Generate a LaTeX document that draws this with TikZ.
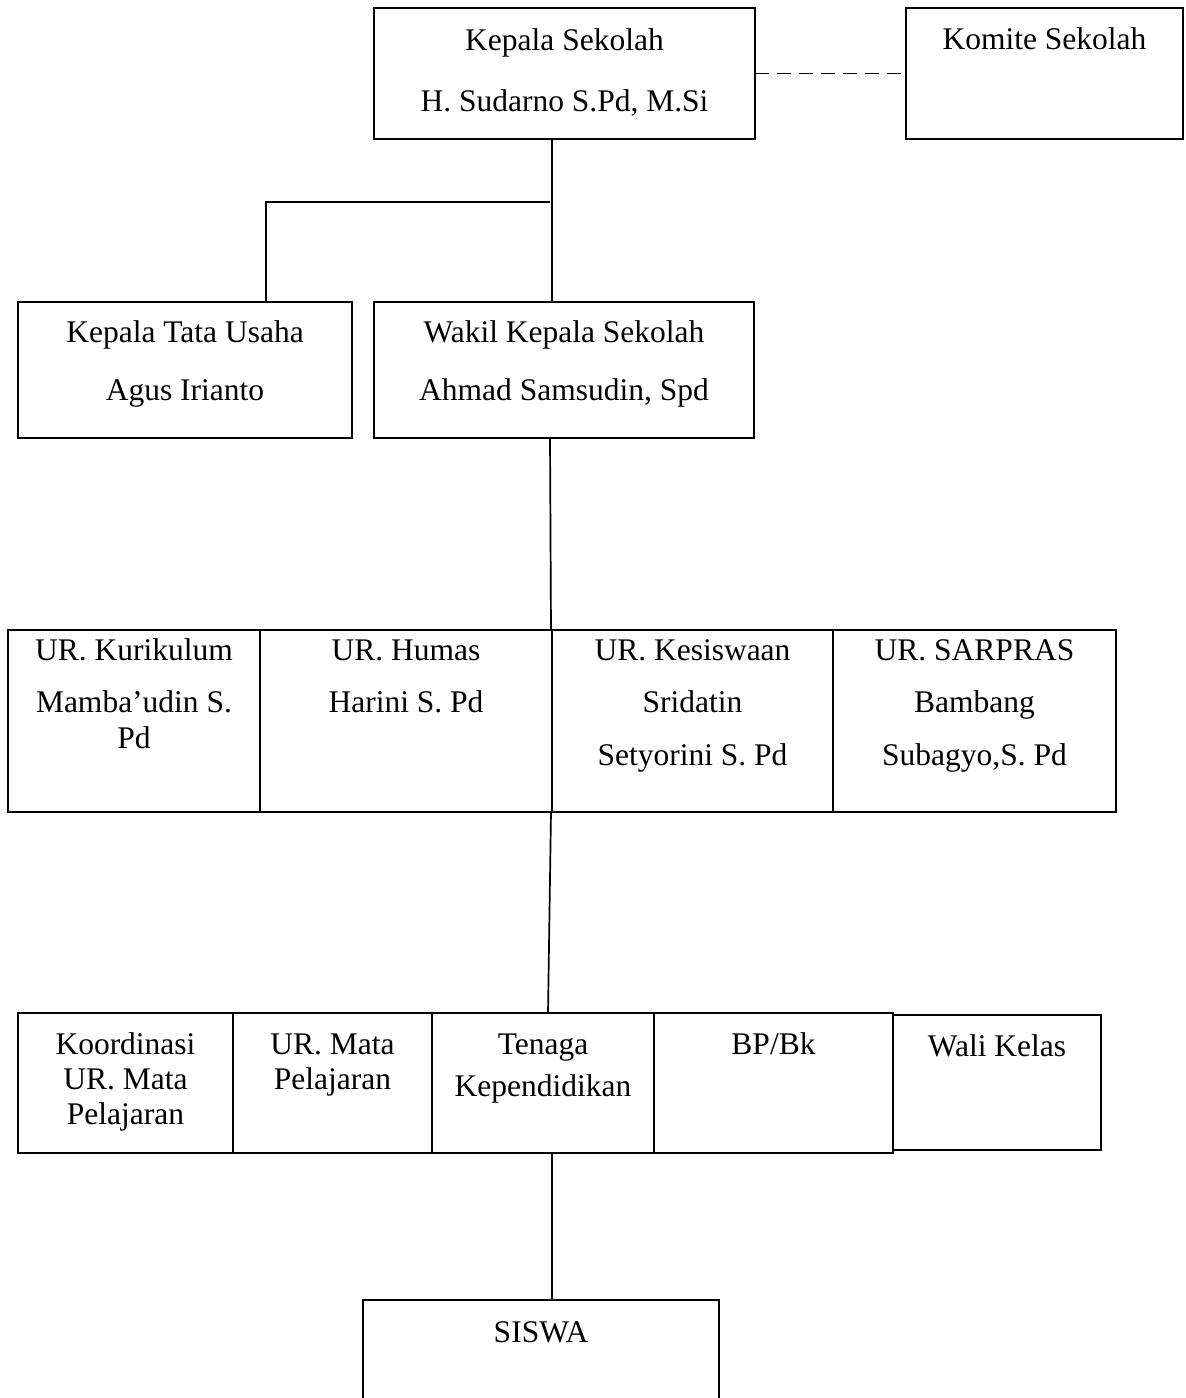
\documentclass[tikz,border=0pt]{standalone}
\usepackage{fontspec}
\setmainfont{Liberation Serif}
\begin{document}
\begin{tikzpicture}[x=1pt,y=-1pt,
  box/.style={draw, line width=1.7pt, inner sep=0pt, outer sep=0pt, anchor=north west},
  lbl/.style={anchor=base, inner sep=0pt, font=\fontsize{31.5}{37}\selectfont},
  link/.style={line width=1.7pt},
  dashlink/.style={line width=1.7pt, dash pattern=on 14pt off 8pt}]
\useasboundingbox (0,0) rectangle (1186,1398);
\clip (0,0) rectangle (1186,1398);
\fill[white] (0,0) rectangle (1186,1398);
% boxes
\node[box, minimum width=381pt, minimum height=131pt] (kepala) at (374,8) {};
\node[box, minimum width=277pt, minimum height=131pt] (komite) at (906,8) {};
\node[box, minimum width=334pt, minimum height=136pt] (ktu) at (18,302) {};
\node[box, minimum width=380pt, minimum height=136pt] (wakil) at (374,302) {};
\node[box, minimum width=252pt, minimum height=182pt] (kur) at (8,630) {};
\node[box, minimum width=292pt, minimum height=182pt] (hum) at (260,630) {};
\node[box, minimum width=281pt, minimum height=182pt] (kes) at (552,630) {};
\node[box, minimum width=283pt, minimum height=182pt] (sar) at (833,630) {};
\node[box, minimum width=215pt, minimum height=140pt] (koo) at (18,1013) {};
\node[box, minimum width=199pt, minimum height=140pt] (mat) at (233,1013) {};
\node[box, minimum width=222pt, minimum height=140pt] (ten) at (432,1013) {};
\node[box, minimum width=239pt, minimum height=140pt] (bpb) at (654,1013) {};
\node[box, minimum width=208pt, minimum height=135pt] (wal) at (893,1015) {};
\node[box, minimum width=356pt, minimum height=120pt] (sis) at (363,1300) {};
% labels
\node[lbl] (l1a) at (564.5,50) {Kepala Sekolah};
\node[lbl] (l1b) at (564.5,111) {H. Sudarno S.Pd, M.Si};
\node[lbl] (l2a) at (1044.5,49) {Komite Sekolah};
\node[lbl] (l3a) at (185,342) {Kepala Tata Usaha};
\node[lbl] (l3b) at (185,400) {Agus Irianto};
\node[lbl] (l4a) at (564,342) {Wakil Kepala Sekolah};
\node[lbl] (l4b) at (564,400) {Ahmad Samsudin, Spd};
\node[lbl] (l5a) at (134,660) {UR. Kurikulum};
\node[lbl] (l5b) at (134,712) {Mamba’udin S.};
\node[lbl] (l5c) at (134,748) {Pd};
\node[lbl] (l6a) at (406,660) {UR. Humas};
\node[lbl] (l6b) at (406,712) {Harini S. Pd};
\node[lbl] (l7a) at (692.5,660) {UR. Kesiswaan};
\node[lbl] (l7b) at (692.5,712) {Sridatin};
\node[lbl] (l7c) at (692.5,765) {Setyorini S. Pd};
\node[lbl] (l8a) at (974.5,660) {UR. SARPRAS};
\node[lbl] (l8b) at (974.5,712) {Bambang};
\node[lbl] (l8c) at (974.5,765) {Subagyo,S. Pd};
\node[lbl] (l9a) at (125.5,1054) {Koordinasi};
\node[lbl] (l9b) at (125.5,1089) {UR. Mata};
\node[lbl] (l9c) at (125.5,1124) {Pelajaran};
\node[lbl] (l10a) at (332.5,1054) {UR. Mata};
\node[lbl] (l10b) at (332.5,1089) {Pelajaran};
\node[lbl] (l11a) at (543,1054) {Tenaga};
\node[lbl] (l11b) at (543,1096) {Kependidikan};
\node[lbl] (l12a) at (773.5,1054) {BP/Bk};
\node[lbl] (l13a) at (997,1056) {Wali Kelas};
\node[lbl] (l14a) at (541,1342) {SISWA};
% connectors
\coordinate (sp) at (552,0);
\coordinate (br) at (550,202);
\coordinate (bl) at (266,202);
\draw[dashlink] (kepala.east) -- (kepala.east -| komite.west);
\draw[link] (sp |- kepala.south) -- (sp |- wakil.north);
\draw[link] (br) -- (bl) -- (bl |- ktu.north);
\draw[link] (550,0 |- wakil.south) -- (551,0 |- kes.north);
\draw[link] (551,0 |- kes.south) -- (548,0 |- ten.north);
\draw[link] (sp |- ten.south) -- (sp |- sis.north);
\end{tikzpicture}
\end{document}
